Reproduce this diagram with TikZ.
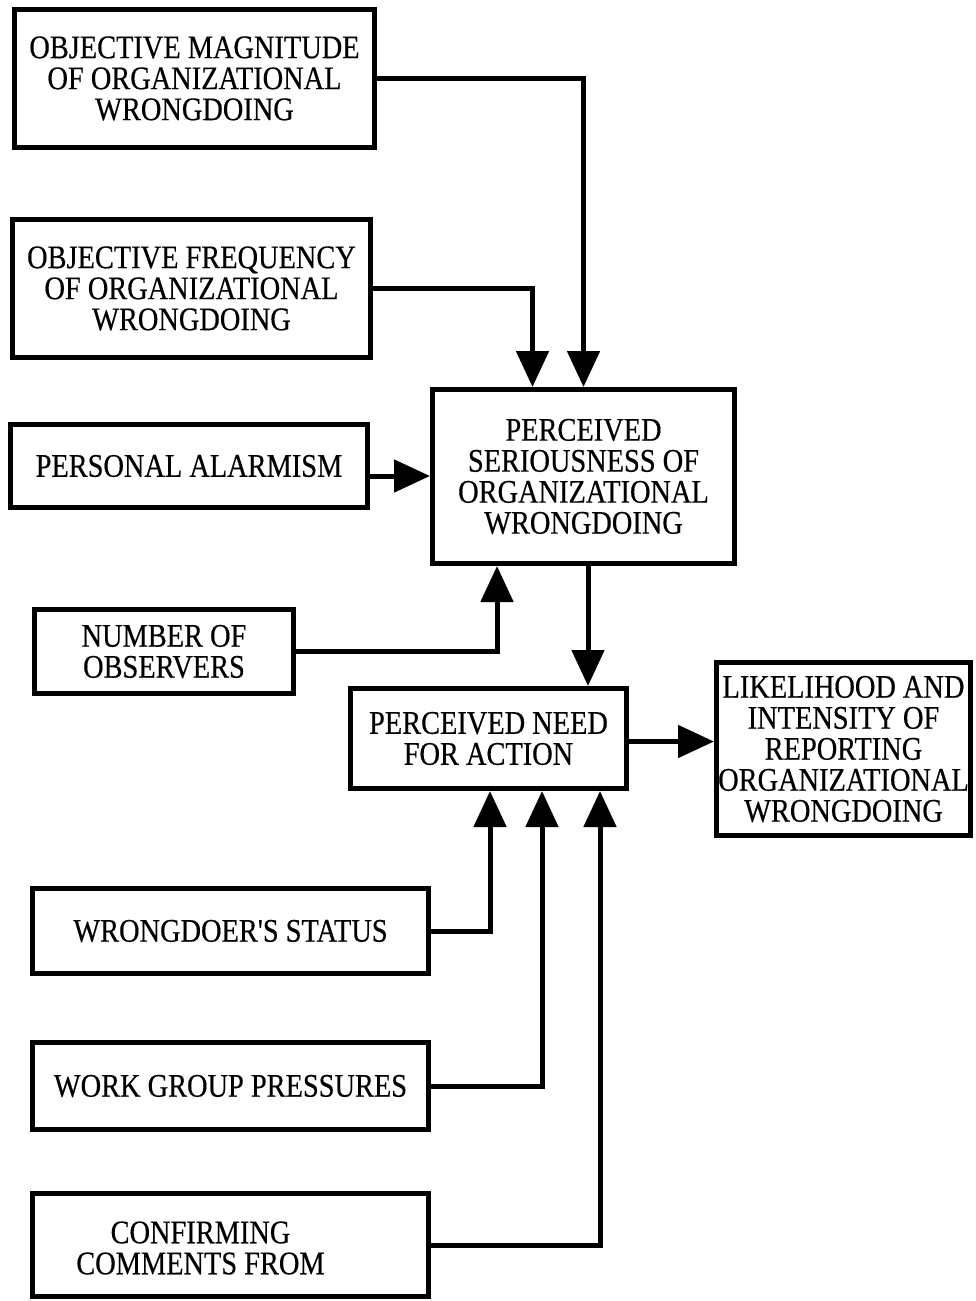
\documentclass[tikz,border=0pt]{standalone}
\usepackage{fontspec}
\setmainfont{Liberation Serif}[FakeStretch=0.86,FakeBold=0.4,Ligatures=TeXOff]
\usetikzlibrary{arrows.meta}
\begin{document}
\begin{tikzpicture}[x=1pt,y=-1pt,
  box/.style={draw, line width=5pt, inner sep=0pt, align=center,
    font=\fontsize{33}{31}\selectfont},
  flow/.style={line width=5pt, line join=miter,
    -{Triangle[length=36pt,width=32pt]}}]
\useasboundingbox[fill=white] (0,0) rectangle (975,1301);

% input factors and mediating constructs
\node[box, minimum width=360pt, minimum height=138pt] (mag) at (194.5,78.5)
  {OBJECTIVE MAGNITUDE\\OF ORGANIZATIONAL\\WRONGDOING};
\node[box, minimum width=358pt, minimum height=138pt] (freq) at (191.5,288.5)
  {OBJECTIVE FREQUENCY\\OF ORGANIZATIONAL\\WRONGDOING};
\node[box, minimum width=357pt, minimum height=83pt] (alarm) at (189,466)
  {PERSONAL ALARMISM};
\node[box, minimum width=259pt, minimum height=84pt] (obs) at (164,651.5)
  {NUMBER OF\\OBSERVERS};
\node[box, minimum width=302pt, minimum height=174pt] (ser) at (583.5,476.5)
  {PERCEIVED\\SERIOUSNESS OF\\ORGANIZATIONAL\\WRONGDOING};
\node[box, minimum width=276pt, minimum height=100pt] (need) at (488.5,738.5)
  {PERCEIVED NEED\\FOR ACTION};
\node[box, minimum width=254pt, minimum height=173pt] (lik) at (843.5,749)
  {LIKELIHOOD AND\\INTENSITY OF\\REPORTING\\ORGANIZATIONAL\\WRONGDOING};
\node[box, minimum width=396pt, minimum height=85pt] (wrong) at (230.5,931)
  {WRONGDOER'S STATUS};
\node[box, minimum width=396pt, minimum height=87pt] (work) at (230.5,1086)
  {WORK GROUP PRESSURES};
\node[box, minimum width=396pt, minimum height=103pt,
  label={[xshift=-30pt,yshift=-3pt,align=center,
    font=\fontsize{33}{31}\selectfont]center:CONFIRMING\\COMMENTS FROM}]
  (conf) at (230.5,1245) {};

% connectors
\draw[flow] (mag.east) -| (ser.north);
\draw[flow] (freq.east) -| ([xshift=-51pt]ser.north);
\draw[flow] ([yshift=-10pt]alarm.east) -- ([yshift=-10pt]alarm.east -| ser.west);
\draw[flow] (obs.east) -| ([xshift=-86.5pt]ser.south);
\draw[flow] ([xshift=4.5pt]ser.south) -- ([xshift=4.5pt]ser.south |- need.north);
\draw[flow] ([yshift=-3pt]need.east) -- ([yshift=-3pt]need.east -| lik.west);
\draw[flow] (wrong.east) -| ([xshift=1.5pt]need.south);
\draw[flow] (work.east) -| ([xshift=53.5pt]need.south);
\draw[flow] (conf.east) -| ([xshift=111.5pt]need.south);
\end{tikzpicture}
\end{document}
